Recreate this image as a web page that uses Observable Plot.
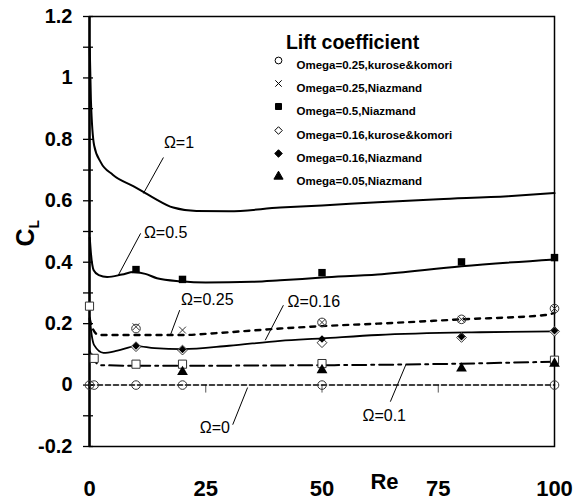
<!DOCTYPE html>
<html><head><meta charset="utf-8">
<script src="https://cdn.jsdelivr.net/npm/d3@7"></script>
<script src="https://cdn.jsdelivr.net/npm/@observablehq/plot@0.6"></script>
<style>body{margin:0;background:#fff}</style>
</head><body><div id="chart"></div>
<script>
// ---- data (Re, CL) ----
const curveOmega1 = [[0.05,1.1],[0.3,0.93],[1,0.78],[2.4,0.726],[5,0.685],[9.5,0.647],[13.5,0.612],[18,0.578],[23,0.567],[30,0.566],[41,0.578],[50,0.585],[62,0.595],[75,0.605],[90,0.615],[100,0.625]];
const curveOmega05 = [[0.05,0.48],[0.3,0.43],[0.9,0.374],[2,0.358],[3.8,0.352],[7,0.36],[9.5,0.368],[12,0.362],[14.5,0.348],[19.6,0.338],[25,0.334],[35,0.336],[41,0.341],[50,0.35],[62,0.36],[80,0.387],[100,0.409]];
const curveOmega025 = [[0.05,0.215],[0.5,0.19],[2,0.163],[10,0.163],[20,0.163],[28,0.17],[41,0.184],[50,0.192],[62,0.2],[80,0.214],[98,0.228],[100,0.235]];
const curveOmega016 = [[0.05,0.22],[0.5,0.16],[1,0.13],[3,0.105],[6,0.112],[10,0.127],[14,0.12],[20,0.117],[30,0.128],[41,0.144],[50,0.152],[62,0.163],[84,0.172],[100,0.175]];
const curveOmega01 = [[0.05,0.11],[0.6,0.09],[2.4,0.065],[10,0.063],[20,0.063],[41,0.064],[68,0.067],[100,0.076]];
const curveOmega0 = [[0,0],[100,0]];

const ptsO025Kurose = [[10,0.184],[50,0.204],[80,0.214],[100,0.249]];
const ptsO0Kurose = [[0,0],[1,0],[10,0],[20,0],[50,0],[100,0]];
const ptsO025Niaz = [[10,0.19],[20,0.179],[50,0.204],[80,0.214],[100,0.249]];
const ptsO05Niaz = [[10,0.376],[20,0.344],[50,0.366],[80,0.401],[100,0.415]];
const ptsO016Kurose = [[10,0.125],[20,0.114],[50,0.138],[80,0.155],[100,0.175]];
const ptsO016Niaz = [[10,0.127],[20,0.116],[50,0.15],[80,0.157],[100,0.177]];
const ptsO005Niaz = [[20,0.043],[50,0.049],[80,0.054],[100,0.07]];
const ptsO01Kurose = [[0,0.257],[1,0.087],[10,0.068],[20,0.068],[50,0.07],[100,0.081]];

const xTickLabels = [0,25,50,75,100];
const xInnerTicks = [25,50,75];
const yTickLabels = [-0.2,0,0.2,0.4,0.6,0.8,1,1.2];
const yMinorTicks = [-0.2,-0.1,0,0.1,0.2,0.3,0.4,0.5,0.6,0.7,0.8,0.9,1,1.1,1.2];

const annoLabels = ["Ω=1","Ω=0.5","Ω=0.25","Ω=0.16","Ω=0","Ω=0.1"];
const annoRe = [16.0,11.7,19.7,42.6,23.7,58.7];
const annoCL = [0.79,0.494,0.276,0.272,-0.14,-0.1];
const leaderRe1 = [15.9,11.0,19.4,41.7,30.8,64.7];
const leaderCL1 = [0.741,0.494,0.244,0.26,-0.129,-0.054];
const leaderRe2 = [11.6,6.2,17.4,37.8,34,68];
const leaderCL2 = [0.624,0.358,0.163,0.146,-0.008,0.065];

const legendTitle = "Lift coefficient";
const legendLabels = ["Omega=0.25,kurose&komori","Omega=0.25,Niazmand","Omega=0.5,Niazmand","Omega=0.16,kurose&komori","Omega=0.16,Niazmand","Omega=0.05,Niazmand"];
const legendSymbols = ["circle","times","square","diamond2","diamond2","triangle"];
const legendFills = ["white","none","black","white","black","black"];

// ---- layout ----
const ML = 89, MT = 16;
const FONT = "'Liberation Sans', Arial, sans-serif";
const X = d => d[0], Y = d => d[1];

const legendRowsY = [60,83,106,130,153,176];
const legendMarks = [];
legendMarks.push(Plot.text([legendTitle], {frameAnchor: "top-left", dx: 352 - ML, dy: 35 - MT, text: d => d, textAnchor: "middle", fontSize: 19.5, fontWeight: "bold", fill: "black"}));
legendLabels.forEach((lab, i) => {
  legendMarks.push(Plot.dot([lab], {frameAnchor: "top-left", dx: 278 - ML, dy: legendRowsY[i] - MT, symbol: legendSymbols[i], r: legendSymbols[i] === "times" ? 3 : 3.4, fill: legendFills[i], stroke: "black", strokeWidth: 1}));
  legendMarks.push(Plot.text([lab], {frameAnchor: "top-left", dx: 296 - ML, dy: legendRowsY[i] - MT, text: d => d, textAnchor: "start", fontSize: 11.5, fontWeight: "bold", fill: "black"}));
});

const annoIdx = d3.range(annoLabels.length);

const chart = Plot.plot({
  width: 582, height: 501,
  marginLeft: ML, marginRight: 28, marginTop: MT, marginBottom: 55,
  style: {fontFamily: FONT, background: "white", color: "black"},
  x: {domain: [0, 100]},
  y: {domain: [-0.2, 1.2]},
  marks: [
    Plot.frame({stroke: "black", strokeWidth: 1.5}),
    Plot.ruleX([0], {stroke: "black", strokeWidth: 2.5}),
    Plot.ruleY(yMinorTicks, {x1: 0, x2: 0, insetLeft: -6, insetRight: -4, stroke: "black", strokeWidth: 1.3}),
    Plot.ruleX(xInnerTicks, {y1: 0, y2: 0, insetBottom: -8, stroke: "#555", strokeWidth: 1}),
    Plot.axisY({ticks: yTickLabels, tickSize: 0, tickPadding: 17, fontSize: 20, fontWeight: "bold", tickFormat: d => String(+d.toFixed(1))}),
    Plot.axisX({ticks: xTickLabels, tickSize: 0, tickPadding: 34, fontSize: 22, fontWeight: "bold", label: null}),
    Plot.text(["C"], {frameAnchor: "left", dx: 25 - ML, dy: 15, text: d => d, rotate: -90, fontSize: 25, fontWeight: "bold"}),
    Plot.text(["L"], {frameAnchor: "left", dx: 34 - ML, dy: -3, text: d => d, rotate: -90, fontSize: 14, fontWeight: "bold"}),
    Plot.text(["Re"], {frameAnchor: "bottom", dx: 384 - 321.5, dy: 42, text: d => d, fontSize: 22, fontWeight: "bold"}),
    // curves
    Plot.line(curveOmega0, {x: X, y: Y, stroke: "black", strokeWidth: 1.6, strokeDasharray: "5,3"}),
    Plot.line(curveOmega01, {x: X, y: Y, curve: "monotone-x", stroke: "black", strokeWidth: 2, strokeDasharray: "14,5,3,5"}),
    Plot.line(curveOmega016, {x: X, y: Y, curve: "monotone-x", stroke: "black", strokeWidth: 1.8}),
    Plot.line(curveOmega025, {x: X, y: Y, curve: "monotone-x", stroke: "black", strokeWidth: 2.4, strokeDasharray: "5,6"}),
    Plot.line(curveOmega05, {x: X, y: Y, curve: "monotone-x", stroke: "black", strokeWidth: 2}),
    Plot.line(curveOmega1, {x: X, y: Y, curve: "monotone-x", stroke: "black", strokeWidth: 2}),
    // markers
    Plot.dot(ptsO01Kurose, {x: X, y: Y, symbol: "square", r: 4.6, fill: "white", stroke: "#333", strokeWidth: 1}),
    Plot.dot(ptsO005Niaz, {x: X, y: Y, symbol: "triangle", r: 4, fill: "black"}),
    Plot.dot(ptsO016Kurose, {x: X, y: Y, symbol: "diamond2", r: 4.4, fill: "white", stroke: "#333", strokeWidth: 1}),
    Plot.dot(ptsO016Niaz, {x: X, y: Y, symbol: "diamond2", r: 3.4, fill: "black"}),
    Plot.dot(ptsO0Kurose, {x: X, y: Y, symbol: "circle", r: 4.3, fill: "none", stroke: "#333", strokeWidth: 1}),
    Plot.dot(ptsO025Kurose, {x: X, y: Y, symbol: "circle", r: 4.3, fill: "none", stroke: "#333", strokeWidth: 1}),
    Plot.dot(ptsO025Niaz, {x: X, y: Y, symbol: "times", r: 3.2, stroke: "#333", strokeWidth: 1}),
    Plot.dot(ptsO05Niaz, {x: X, y: Y, symbol: "square", r: 4.2, fill: "black"}),
    // annotations
    Plot.link(annoIdx, {x1: i => leaderRe1[i], y1: i => leaderCL1[i], x2: i => leaderRe2[i], y2: i => leaderCL2[i], stroke: "black", strokeWidth: 1}),
    Plot.text(annoIdx, {x: i => annoRe[i], y: i => annoCL[i], text: i => annoLabels[i], textAnchor: "start", fontSize: 16, fill: "black"}),
    ...legendMarks
  ]
});
document.getElementById("chart").appendChild(chart);
</script></body></html>
